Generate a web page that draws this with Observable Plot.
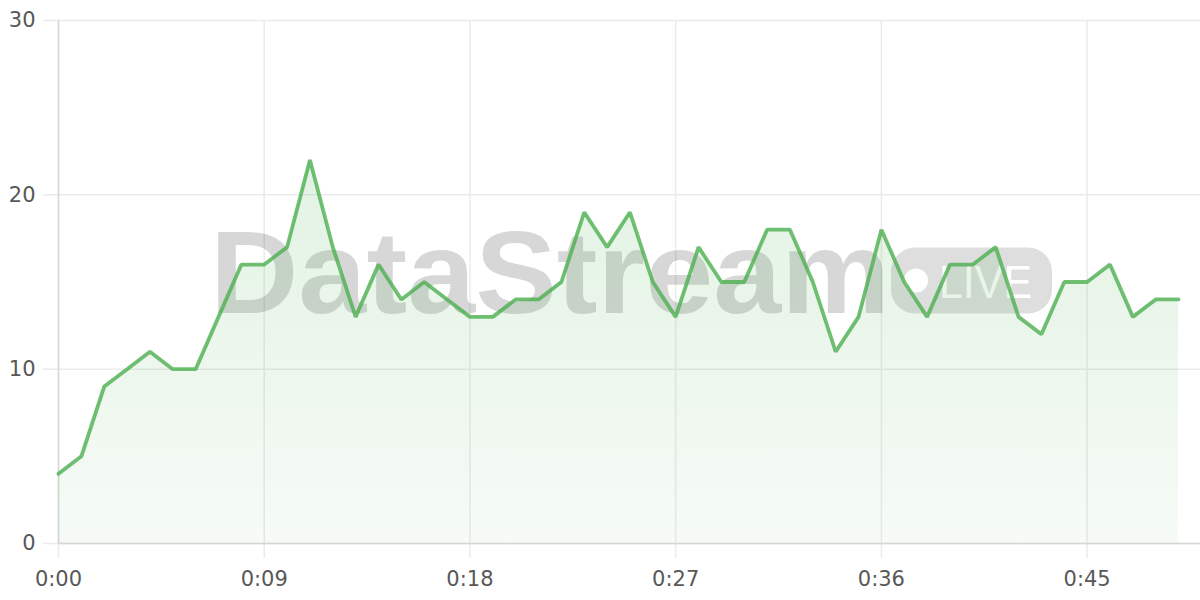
<!DOCTYPE html>
<html>
<head>
<meta charset="utf-8">
<script src="https://cdn.jsdelivr.net/npm/d3@7"></script>
<script src="https://cdn.jsdelivr.net/npm/@observablehq/plot@0.6"></script>
<style>
  html, body { margin: 0; padding: 0; background: #fff; }
  #chart svg { display: block; }
</style>
</head>
<body>
<div id="chart"></div>
<script>
const seconds = d3.range(0, 50);
const values = [4, 5, 9, 10, 11, 10, 10, 13, 16, 16,
                17, 22, 17, 13, 16, 14, 15, 14, 13, 13,
                14, 14, 15, 19, 17, 19, 15, 13, 17, 15,
                15, 18, 18, 15, 11, 13, 18, 15, 13, 16,
                16, 17, 13, 12, 15, 15, 16, 13, 14, 14];
const xTicks = [0, 9, 18, 27, 36, 45];
const yTicks = [0, 10, 20, 30];
const watermarkText = "DataStream";
const badgeText = "LIVE";

const data = seconds.map((s, i) => ({s, v: values[i]}));
const fmt = s => `${Math.floor(s / 60)}:${String(s % 60).padStart(2, "0")}`;

const font = "'DejaVu Sans', Verdana, sans-serif";
const wmFont = "'Liberation Sans', Arial, sans-serif";

// watermark decoration, positioned relative to the frame
function watermark(index, scales, values, dim) {
  const cx = dim.marginLeft + (dim.width - dim.marginLeft - dim.marginRight) / 2;
  const cy = dim.marginTop + (dim.height - dim.marginTop - dim.marginBottom) / 2;
  const g = d3.create("svg:g").attr("text-anchor", "start");
  g.append("text")
    .attr("x", cx - 419).attr("y", cy + 31)
    .attr("text-anchor", "start")
    .attr("font-family", wmFont).attr("font-weight", "bold")
    .attr("font-size", 116)
    .attr("textLength", 680).attr("lengthAdjust", "spacingAndGlyphs")
    .attr("fill", "#000").attr("fill-opacity", 0.155)
    .text(watermarkText);
  g.append("rect")
    .attr("x", cx + 262).attr("y", cy - 34)
    .attr("width", 161).attr("height", 66).attr("rx", 24)
    .attr("fill", "#000").attr("fill-opacity", 0.13);
  g.append("circle")
    .attr("cx", cx + 287).attr("cy", cy - 1).attr("r", 12)
    .attr("fill", "#fff");
  g.append("text")
    .attr("x", cx + 310).attr("y", cy + 16)
    .attr("text-anchor", "start")
    .attr("font-family", wmFont).attr("font-size", 47)
    .attr("textLength", 93).attr("lengthAdjust", "spacingAndGlyphs")
    .attr("fill", "#fff")
    .text(badgeText);
  return g.node();
}

const chart = Plot.plot({
  width: 1200,
  height: 600,
  marginTop: 20,
  marginLeft: 58,
  marginRight: 0,
  marginBottom: 57,
  style: {fontFamily: font, fontSize: "21px", background: "#fff"},
  x: {domain: [0, 49.96], label: null},
  y: {domain: [0, 30], label: null},
  marks: [
    Plot.ruleY(yTicks, {stroke: "#ebebeb", strokeWidth: 1.5}),
    Plot.ruleX(xTicks, {stroke: "#ebebeb", strokeWidth: 1.5}),
    Plot.axisY(yTicks, {tickSize: 15, stroke: "#ebebeb", strokeWidth: 1.5, text: null, label: null}),
    Plot.axisX(xTicks, {tickSize: 15, stroke: "#ebebeb", strokeWidth: 1.5, text: null, label: null}),
    Plot.axisY(yTicks, {tickSize: 0, tickPadding: 23, fill: "#585858", fontSize: 21, label: null}),
    Plot.axisX(xTicks, {tickSize: 0, tickPadding: 28, fill: "#585858", fontSize: 21, tickFormat: fmt, label: null}),
    Plot.ruleX([0], {stroke: "#d6d6d6", strokeWidth: 1.5}),
    Plot.ruleY([0], {stroke: "#d6d6d6", strokeWidth: 1.5}),
    watermark,
    Plot.areaY(data, {x: "s", y: "v", fill: "url(#areaGrad)"}),
    Plot.lineY(data, {x: "s", y: "v", stroke: "#4caf50", strokeOpacity: 0.8, strokeWidth: 3.8, strokeLinejoin: "miter"})
  ]
});

const defs = d3.select(chart).insert("defs", ":first-child");
const grad = defs.append("linearGradient")
  .attr("id", "areaGrad").attr("x1", 0).attr("y1", 0).attr("x2", 0).attr("y2", 1);
grad.append("stop").attr("offset", "0%").attr("stop-color", "#4caf50").attr("stop-opacity", 0.16);
grad.append("stop").attr("offset", "100%").attr("stop-color", "#4caf50").attr("stop-opacity", 0.05);

document.getElementById("chart").append(chart);
</script>
</body>
</html>
